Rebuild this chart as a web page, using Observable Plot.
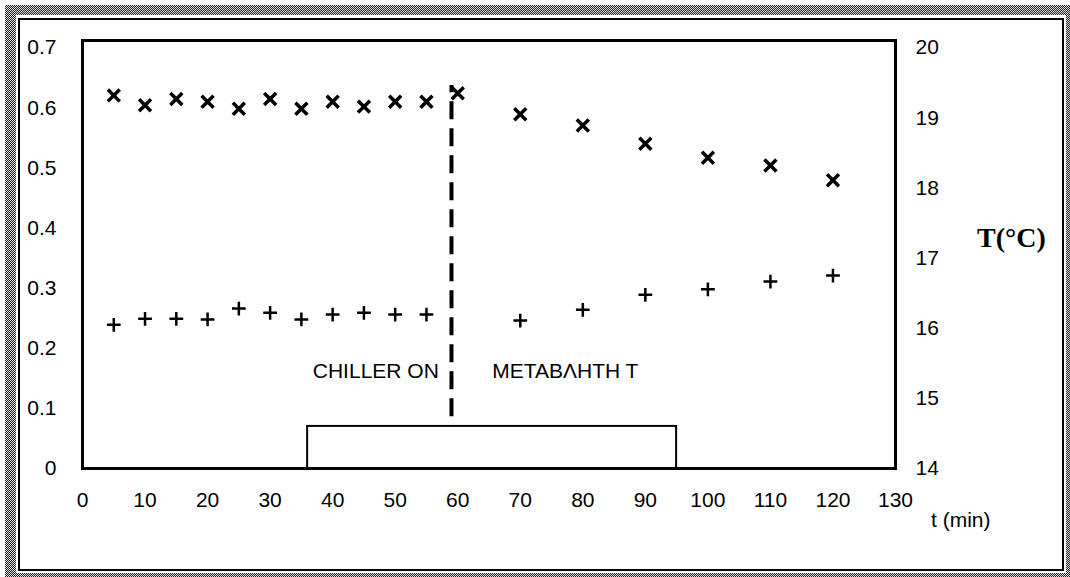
<!DOCTYPE html>
<html>
<head>
<meta charset="utf-8">
<script src="https://cdn.jsdelivr.net/npm/d3@7"></script>
<script src="https://cdn.jsdelivr.net/npm/@observablehq/plot@0.6"></script>
<style>
  html, body { margin: 0; padding: 0; background: #fff; overflow: hidden; }
  #wrap { position: relative; width: 1070px; height: 577px; background: #fff; }
  .band { position: absolute; left: 5px; top: 5px; right: 0; bottom: 0;
    background: repeating-conic-gradient(#222 0 25%, #ddd 0 50%) 0 0 / 2px 2px; }
  .inner { position: absolute; left: 16px; top: 15px; right: 4px; bottom: 4px; background: #fff; }
  .line { position: absolute; left: 18px; top: 18px; right: 6px; bottom: 6px; border: 2px solid #000; }
  #chart { position: absolute; left: 0; top: 0; }
  .lab { position: absolute; white-space: nowrap; color: #000; }
  .xlab { left: 931px; top: 508px; font: 21px "Liberation Sans", Arial, sans-serif; }
  .ylab2 { left: 977px; top: 222px; font: bold 28px "Liberation Serif", "Times New Roman", "DejaVu Serif", serif; }
</style>
</head>
<body>
<div id="wrap">
  <div class="band"></div>
  <div class="inner"></div>
  <div class="line"></div>
  <div id="chart"></div>
  <div class="lab xlab">t (min)</div>
  <div class="lab ylab2">T(°C)</div>
</div>
<script>
// ---- data ----
const tTimes = [5, 10, 15, 20, 25, 30, 35, 40, 45, 50, 55, 60, 70, 80, 90, 100, 110, 120];
const tValues = [19.32, 19.18, 19.27, 19.23, 19.13, 19.27, 19.13, 19.23, 19.16, 19.23, 19.23, 19.35,
                 19.05, 18.89, 18.63, 18.43, 18.32, 18.11];            // "×" series, right axis (°C)
const pTimes = [5, 10, 15, 20, 25, 30, 35, 40, 45, 50, 55, 70, 80, 90, 100, 110, 120];
const pValues = [0.239, 0.249, 0.249, 0.248, 0.266, 0.259, 0.248, 0.256, 0.259, 0.256, 0.256,
                 0.246, 0.264, 0.289, 0.298, 0.311, 0.321];           // "+" series, left axis
const xTicks = [0, 10, 20, 30, 40, 50, 60, 70, 80, 90, 100, 110, 120, 130];
const leftTicks = [0, 0.1, 0.2, 0.3, 0.4, 0.5, 0.6, 0.7];
const rightTicks = [14, 15, 16, 17, 18, 19, 20];
const switchTime = [59];               // dashed line (chiller on)
const switchSpan = [0.086, 0.637];     // its extent on the left axis
const boxStart = 36, boxEnd = 95, boxTop = 0.07;
const notes = [
  {t: 46.9, v: 0.161, text: "CHILLER ON"},
  {t: 77.2, v: 0.161, text: "ΜΕΤΑΒΛΗΤΗ Τ"}
];

// right axis (°C) maps onto the left axis: 14 °C ↔ 0, 20 °C ↔ 0.7
const toLeft = T => (T - 14) * 0.7 / 6;
const toRight = v => 14 + v * 6 / 0.7;

const tData = tTimes.map((t, i) => ({t, T: tValues[i]}));
const pData = pTimes.map((t, i) => ({t, v: pValues[i]}));

const fontFam = "'Liberation Sans', Arial, sans-serif";

const chart = Plot.plot({
  width: 1070,
  height: 577,
  marginLeft: 82,
  marginRight: 175,
  marginTop: 40,
  marginBottom: 109,
  style: {background: "transparent", fontFamily: fontFam, fontSize: "21px", color: "#000"},
  x: {domain: [0, 130]},
  y: {domain: [0, 0.712]},
  marks: [
    Plot.rect([{}], {x1: boxStart, x2: boxEnd, y1: 0, y2: boxTop, fill: "white", stroke: "black", strokeWidth: 2}),
    Plot.frame({stroke: "black", strokeWidth: 3}),
    Plot.axisX(xTicks, {tickSize: 0, tickPadding: 24, label: null, tickFormat: d => String(d)}),
    Plot.axisY(leftTicks, {anchor: "left", tickSize: 0, tickPadding: 26, label: null, tickFormat: d => String(d)}),
    Plot.axisY(rightTicks.map(toLeft), {anchor: "right", tickSize: 0, tickPadding: 20, label: null,
      tickFormat: v => String(Math.round(toRight(v)))}),
    Plot.ruleX(switchTime, {y1: switchSpan[0], y2: switchSpan[1], stroke: "black", strokeWidth: 4, strokeDasharray: "18,9"}),
    Plot.text(notes, {x: "t", y: "v", text: "text", fontSize: 21, fill: "black"}),
    Plot.dot(tData, {x: "t", y: d => toLeft(d.T), symbol: "times", r: 5.5, stroke: "black", strokeWidth: 3.5}),
    Plot.dot(pData, {x: "t", y: "v", symbol: "plus", r: 4.5, stroke: "black", strokeWidth: 2.5})
  ]
});
document.getElementById("chart").appendChild(chart);
</script>
</body>
</html>
